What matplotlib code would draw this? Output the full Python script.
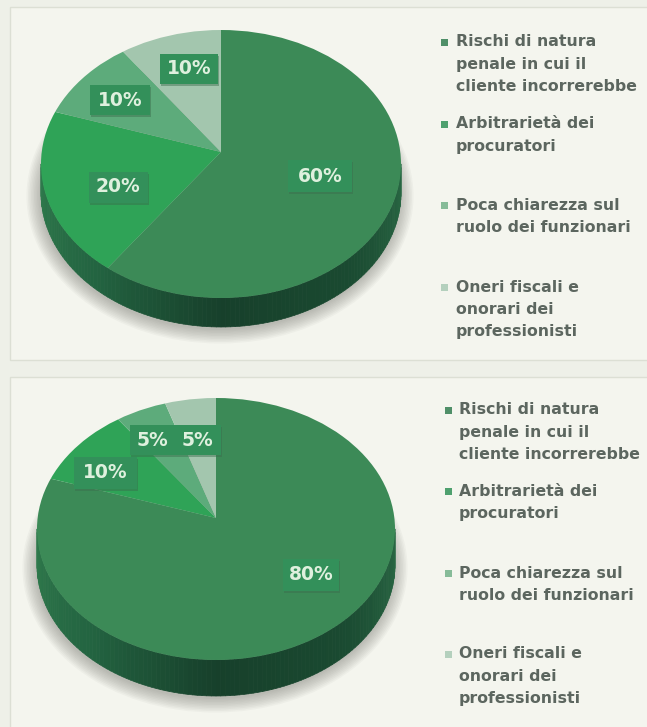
import matplotlib
matplotlib.use('Agg')
import matplotlib.pyplot as plt
import matplotlib.patches as mpatches
from matplotlib.collections import PolyCollection
from matplotlib.colors import LinearSegmentedColormap
import numpy as np

W, H = 647, 727

values_top = [60, 20, 10, 10]
values_bottom = [80, 10, 5, 5]
legend_labels = [
    'Rischi di natura\npenale in cui il\ncliente incorrerebbe',
    'Arbitrarietà dei\nprocuratori',
    'Poca chiarezza sul\nruolo dei funzionari',
    'Oneri fiscali e\nonorari dei\nprofessionisti',
]
slice_colors = ['#3c8a57', '#2fa357', '#5dab7b', '#a3c6ae']
legend_colors = ['#4f8f68', '#4ea06e', '#86bb98', '#b4d0bd']

plt.rcParams['font.family'] = ['DejaVu Sans']

side_cmap = LinearSegmentedColormap.from_list(
    'side', ['#2f7a4c', '#236441', '#17402b', '#1a4a31', '#2a6a45'])


def to_ax(fig, left, top, width, height, **kw):
    return fig.add_axes([left / W, 1 - (top + height) / H, width / W, height / H], **kw)


def draw_body(bg, cx, cy, rx, ry, depth):
    # soft shadow under the pie
    for k in np.arange(0, 15, 1.5):
        bg.add_patch(mpatches.Ellipse((cx - 1, cy + depth + 3), 2 * (rx + k), 2 * (ry + k),
                                      color='#6f6f68', alpha=0.05, lw=0))
    # side wall as thin strips
    t = np.linspace(0, np.pi, 121)
    strips = []
    for a, b in zip(t[:-1], t[1:]):
        xa, xb = cx + rx * np.cos(a), cx + rx * np.cos(b)
        ya, yb = cy + ry * np.sin(a), cy + ry * np.sin(b)
        strips.append([(xa, ya), (xb, yb), (xb, yb + depth), (xa, ya + depth)])
    bg.add_collection(PolyCollection(strips, array=np.linspace(1, 0, 120), cmap=side_cmap,
                                     edgecolors='face', linewidths=0.5))


def draw_top(fig, values, cx, cy, rx, ry, apex_y):
    ax = to_ax(fig, cx - rx, cy - ry, 2 * rx, 2 * ry, zorder=2)
    wedges, _ = ax.pie(values, colors=slice_colors, startangle=90, counterclock=False,
                       radius=1.6, center=(0, (cy - apex_y) / ry), frame=True,
                       wedgeprops={'linewidth': 0})
    ax.set_aspect('auto')
    ax.set_xlim(-1, 1)
    ax.set_ylim(-1, 1)
    ax.axis('off')
    # the wedges start from the apex, which sits above the ellipse centre
    clip = mpatches.Ellipse((0, 0), 2, 2, transform=ax.transData)
    for w in wedges:
        w.set_clip_on(True)
        w.set_clip_path(clip)


def draw_badges(over, values, centers):
    for v, (x, y, w, h) in zip(values, centers):
        over.add_patch(mpatches.Rectangle((x - w / 2 + 1, y - h / 2 + 2), w, h, color='#3a6b4c', alpha=0.45, lw=0))
        over.add_patch(mpatches.Rectangle((x - w / 2, y - h / 2), w, h, color='#33905a', lw=0))
        over.text(x, y, f'{v}%', color='#dff0de', fontsize=13.5, fontweight='bold', ha='center', va='center')


def draw_legend(over, bullet_x, text_x, line_tops):
    for label, color, y in zip(legend_labels, legend_colors, line_tops):
        over.add_patch(mpatches.Rectangle((bullet_x - 3.5, y - 3.5), 7, 7, color=color, lw=0))
        over.text(text_x, y - 7.5, label, color='#5c665f', fontsize=11.3, fontweight='bold',
                  ha='left', va='top', linespacing=1.6)


fig = plt.figure(figsize=(W / 100, H / 100), dpi=100, facecolor='#eef0e8')

bg = to_ax(fig, 0, 0, W, H, zorder=1)
bg.set_xlim(0, W)
bg.set_ylim(H, 0)
bg.axis('off')

# panels behind each chart
bg.add_patch(mpatches.Rectangle((10, 7), W, 353, facecolor='#f4f5ee', edgecolor='#dcdfd4', lw=1))
bg.add_patch(mpatches.Rectangle((10, 377), W, H, facecolor='#f4f5ee', edgecolor='#dcdfd4', lw=1))

draw_body(bg, 221, 164, 180, 134, 29)
draw_body(bg, 216, 529, 179, 131, 36)

draw_top(fig, values_top, 221, 164, 180, 134, 152)
draw_top(fig, values_bottom, 216, 529, 179, 131, 518)

over = to_ax(fig, 0, 0, W, H, zorder=3)
over.set_xlim(0, W)
over.set_ylim(H, 0)
over.axis('off')

draw_badges(over, values_top, [(320, 176, 64, 32), (118, 187, 59, 31), (120, 100, 60, 30), (189, 69, 58, 30)])
draw_badges(over, values_bottom, [(311, 575, 56, 32), (105, 473, 63, 32), (152, 440, 44, 30), (197, 440, 47, 30)])

draw_legend(over, 444, 456, [42, 124, 205, 287])
draw_legend(over, 448, 459, [410, 491, 573, 654])

fig.savefig('out.png', dpi=100, facecolor=fig.get_facecolor())
